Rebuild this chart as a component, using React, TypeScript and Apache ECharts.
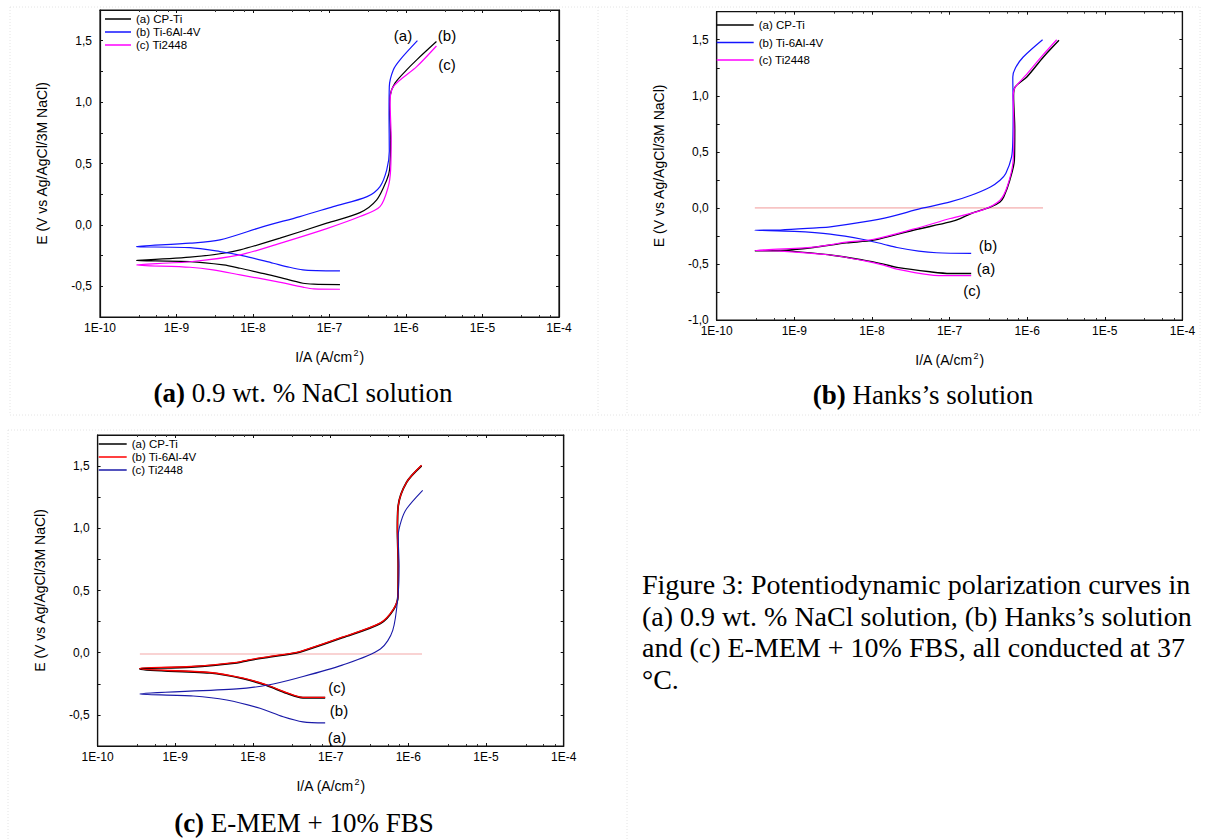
import React, { useEffect, useRef } from "react";
import * as echarts from "echarts";

type Pt = [number, number]; // [current density A/cm2, potential V]

// ---------- (a) 0.9 wt. % NaCl solution ----------
const aCpTiCathodic: Pt[] = [[3.0e-10, -0.29], [1.5e-9, -0.299], [4.1e-9, -0.326], [6.8e-9, -0.353], [1.2e-8, -0.388], [2.04e-8, -0.421], [4.5e-8, -0.475], [6.2e-8, -0.483], [1.37e-7, -0.486]];
const aCpTiAnodic: Pt[] = [[3.0e-10, -0.285], [1.5e-9, -0.263], [4.1e-9, -0.231], [6.8e-9, -0.204], [2.25e-8, -0.108], [9.2e-8, 0.014], [2.5e-7, 0.10], [4.14e-7, 0.204], [5.6e-7, 0.366], [6.1e-7, 0.45], [6.3e-7, 0.7], [6.1e-7, 0.95], [6.17e-7, 1.045], [7.18e-7, 1.154], [1.02e-6, 1.262], [1.38e-6, 1.344], [2.5e-6, 1.493]];
const aTi64Cathodic: Pt[] = [[3.0e-10, -0.177], [1.5e-9, -0.185], [3.7e-9, -0.217], [7.5e-9, -0.252], [1.84e-8, -0.312], [3.0e-8, -0.345], [4.5e-8, -0.366], [6.8e-8, -0.372], [1.37e-7, -0.374]];
const aTi64Anodic: Pt[] = [[3.0e-10, -0.177], [1.5e-9, -0.149], [3.7e-9, -0.122], [1.36e-8, -0.014], [4.1e-8, 0.068], [1.12e-7, 0.149], [3.1e-7, 0.23], [4.57e-7, 0.312], [5.6e-7, 0.448], [6.05e-7, 0.6], [6.0e-7, 0.9], [6.05e-7, 1.126], [6.82e-7, 1.262], [8.36e-7, 1.344], [1.41e-6, 1.50]];
const aTi2448Cathodic: Pt[] = [[3.0e-10, -0.326], [1.5e-9, -0.345], [3.0e-9, -0.366], [6.8e-9, -0.407], [2.04e-8, -0.462], [4.5e-8, -0.507], [6.2e-8, -0.521], [1.37e-7, -0.524]];
const aTi2448Anodic: Pt[] = [[3.0e-10, -0.326], [1.5e-9, -0.30], [6.8e-9, -0.244], [2.25e-8, -0.15], [9.2e-8, -0.03], [2.5e-7, 0.068], [4.57e-7, 0.149], [5.87e-7, 0.312], [6.3e-7, 0.45], [6.4e-7, 0.7], [6.2e-7, 1.0], [6.82e-7, 1.126], [1.38e-6, 1.289], [2.5e-6, 1.457]];

// ---------- (b) Hanks's solution ----------
const bCpTiCathodic: Pt[] = [[3.1e-10, -0.383], [6.6e-10, -0.383], [2.9e-9, -0.42], [7.8e-9, -0.466], [1.41e-8, -0.502], [2.1e-8, -0.531], [5.6e-8, -0.57], [1.02e-7, -0.585], [1.9e-7, -0.585]];
const bCpTiAnodic: Pt[] = [[3.1e-10, -0.383], [6.6e-10, -0.38], [1.76e-9, -0.353], [4.7e-9, -0.312], [1.05e-8, -0.288], [3.4e-8, -0.199], [1.02e-7, -0.125], [1.37e-7, -0.095], [1.9e-7, -0.05], [3.4e-7, 0.009], [4.47e-7, 0.053], [5.0e-7, 0.10], [5.97e-7, 0.247], [6.84e-7, 0.425], [6.92e-7, 0.7], [6.68e-7, 1.0], [6.98e-7, 1.078], [9.9e-7, 1.168], [1.62e-6, 1.346], [2.57e-6, 1.495]];
const bTi64Cathodic: Pt[] = [[3.1e-10, -0.199], [1.0e-9, -0.21], [2.9e-9, -0.234], [7.8e-9, -0.282], [1.41e-8, -0.324], [2.1e-8, -0.353], [4.0e-8, -0.385], [6.8e-8, -0.40], [1.9e-7, -0.406]];
const bTi64Anodic: Pt[] = [[3.1e-10, -0.199], [6.6e-10, -0.197], [1.93e-9, -0.178], [2.9e-9, -0.169], [7.8e-9, -0.125], [1.7e-8, -0.08], [4.3e-8, -0.005], [1.02e-7, 0.053], [1.9e-7, 0.113], [3.36e-7, 0.187], [4.47e-7, 0.247], [5.3e-7, 0.307], [6.3e-7, 0.455], [6.53e-7, 0.6], [6.6e-7, 0.9], [6.53e-7, 1.168], [7.08e-7, 1.25], [8.9e-7, 1.346], [1.58e-6, 1.50]];
const bTi2448Cathodic: Pt[] = [[3.1e-10, -0.38], [6.6e-10, -0.385], [2.9e-9, -0.42], [7.8e-9, -0.47], [1.41e-8, -0.51], [2.1e-8, -0.546], [5.6e-8, -0.597], [1.02e-7, -0.605], [1.9e-7, -0.605]];
const bTi2448Anodic: Pt[] = [[3.1e-10, -0.38], [1.76e-9, -0.35], [4.7e-9, -0.306], [1.05e-8, -0.28], [3.4e-8, -0.19], [1.02e-7, -0.095], [2.73e-7, -0.015], [4.47e-7, 0.068], [5.6e-7, 0.2], [6.6e-7, 0.42], [6.76e-7, 0.7], [6.6e-7, 1.0], [6.92e-7, 1.07], [9.5e-7, 1.18], [1.58e-6, 1.36], [2.4e-6, 1.50]];
const bZeroLine: Pt[] = [[3.1e-10, 0], [1.6e-6, 0]];

// ---------- (c) E-MEM + 10% FBS ----------
const cCpTiCathodic: Pt[] = [[3.5e-10, -0.134], [2.8e-9, -0.163], [7.5e-9, -0.209], [1.5e-8, -0.263], [2.7e-8, -0.325], [4.4e-8, -0.362], [8.5e-8, -0.362]];
const cCpTiAnodic: Pt[] = [[3.5e-10, -0.128], [1.6e-9, -0.115], [6.2e-9, -0.082], [8.8e-9, -0.061], [1.66e-8, -0.034], [3.65e-8, -0.001], [4.8e-8, 0.02], [1.41e-7, 0.121], [4.37e-7, 0.236], [6.4e-7, 0.344], [7.35e-7, 0.452], [7.41e-7, 0.7], [7.24e-7, 1.0], [7.41e-7, 1.18], [9.5e-7, 1.37], [1.48e-6, 1.503]];
const cTi64Cathodic: Pt[] = [[3.5e-10, -0.13], [2.8e-9, -0.159], [7.5e-9, -0.205], [1.5e-8, -0.259], [2.7e-8, -0.321], [4.4e-8, -0.359], [8.5e-8, -0.359]];
const cTi64Anodic: Pt[] = [[3.5e-10, -0.124], [1.6e-9, -0.111], [6.2e-9, -0.078], [8.8e-9, -0.057], [1.66e-8, -0.03], [3.65e-8, 0.003], [4.8e-8, 0.024], [1.41e-7, 0.125], [4.37e-7, 0.24], [6.4e-7, 0.348], [7.35e-7, 0.456], [7.41e-7, 0.7], [7.24e-7, 1.0], [7.41e-7, 1.18], [9.5e-7, 1.37], [1.48e-6, 1.507]];
const cTi2448Cathodic: Pt[] = [[3.5e-10, -0.332], [1.7e-9, -0.348], [4.6e-9, -0.38], [1.23e-8, -0.447], [2.45e-8, -0.515], [4.4e-8, -0.556], [8.5e-8, -0.564]];
const cTi2448Anodic: Pt[] = [[3.5e-10, -0.332], [6.2e-9, -0.291], [1.56e-8, -0.26], [3.65e-8, -0.205], [1.41e-7, -0.10], [4.37e-7, 0.03], [6.3e-7, 0.18], [7.41e-7, 0.483], [7.59e-7, 0.7], [7.41e-7, 0.941], [8.1e-7, 1.06], [9.5e-7, 1.157], [1.53e-6, 1.305]];
const cZeroLine: Pt[] = [[3.5e-10, -0.01], [1.5e-6, -0.01]];

const curveNames = ["(a) CP-Ti", "(b) Ti-6Al-4V", "(c) Ti2448"];
const yAxisTitle = "E (V vs Ag/AgCl/3M NaCl)";
const panelTitles = [
  ["(a)", " 0.9 wt. % NaCl solution"],
  ["(b)", " Hanks\u2019s solution"],
  ["(c)", " E-MEM + 10% FBS"],
];
const curveTags = [["(a)", "(b)", "(c)"], ["(b)", "(a)", "(c)"], ["(c)", "(b)", "(a)"]];
const captionLines = [
  "Figure 3: Potentiodynamic polarization curves in",
  "(a) 0.9 wt. % NaCl solution, (b) Hanks\u2019s solution",
  "and (c) E-MEM + 10% FBS, all conducted at 37",
  "\u00B0C.",
];

const SANS = "Liberation Sans, Arial, sans-serif";
const SERIF = "Liberation Serif, Times New Roman, serif";

const panels = [
  {
    key: "a", left: 100, top: 10, width: 459, height: 307, yMin: -0.75, yMax: 1.75,
    legend: { left: 105, top: 12.5, iconW: 26, gap: 0 },
    curves: [
      { name: curveNames[0], color: "#000000", width: 1.2, cath: aCpTiCathodic, anod: aCpTiAnodic },
      { name: curveNames[1], color: "#1414ff", width: 1.2, cath: aTi64Cathodic, anod: aTi64Anodic },
      { name: curveNames[2], color: "#ff00ff", width: 1.2, cath: aTi2448Cathodic, anod: aTi2448Anodic },
    ],
    zero: null as Pt[] | null,
    title: { x: 303, y: 393 },
    tags: [{ x: 403, y: 35 }, { x: 447, y: 35 }, { x: 447, y: 64 }],
  },
  {
    key: "b", left: 716.7, top: 11.7, width: 465.7, height: 308.3, yMin: -1.0, yMax: 1.75,
    legend: { left: 716.7, top: 18.5, iconW: 37, gap: 4.5 },
    curves: [
      { name: curveNames[0], color: "#000000", width: 1.4, cath: bCpTiCathodic, anod: bCpTiAnodic },
      { name: curveNames[1], color: "#1414ff", width: 1.2, cath: bTi64Cathodic, anod: bTi64Anodic },
      { name: curveNames[2], color: "#ff00ff", width: 1.2, cath: bTi2448Cathodic, anod: bTi2448Anodic },
    ],
    zero: bZeroLine,
    title: { x: 923, y: 395 },
    tags: [{ x: 988, y: 245 }, { x: 986, y: 268 }, { x: 972, y: 290 }],
  },
  {
    key: "c", left: 97.6, top: 435, width: 466.1, height: 311, yMin: -0.75, yMax: 1.75,
    legend: { left: 98.7, top: 437.5, iconW: 28, gap: 0 },
    curves: [
      { name: curveNames[0], color: "#000000", width: 1.8, cath: cCpTiCathodic, anod: cCpTiAnodic },
      { name: curveNames[1], color: "#ff0000", width: 1.3, cath: cTi64Cathodic, anod: cTi64Anodic },
      { name: curveNames[2], color: "#1a1aa8", width: 1.1, cath: cTi2448Cathodic, anod: cTi2448Anodic },
    ],
    zero: cZeroLine,
    title: { x: 304, y: 823 },
    tags: [{ x: 337, y: 687 }, { x: 339, y: 710 }, { x: 337, y: 737 }],
  },
];

const xLabel = (v: number) => "1E" + Math.round(Math.log10(v));
const yLabel = (v: number) =>
  Math.abs(v * 2 - Math.round(v * 2)) < 1e-6 ? v.toFixed(1).replace(".", ",") : "";

function buildOption() {
  const grid: any[] = [];
  const xAxis: any[] = [];
  const yAxis: any[] = [];
  const series: any[] = [];
  const legend: any[] = [];
  const graphic: any[] = [];

  panels.forEach((p, i) => {
    grid.push({ left: p.left, top: p.top, width: p.width, height: p.height, show: true, borderColor: "#111", borderWidth: 1.2 });
    const tickCommon = {
      axisLine: { show: true, onZero: false, lineStyle: { color: "#111", width: 1.2 } },
      axisTick: { show: true, inside: true, length: 3, lineStyle: { color: "#111" } },
      minorTick: { show: true, splitNumber: 4, length: 2, lineStyle: { color: "#333" } },
      splitLine: { show: false },
    };
    xAxis.push({
      type: "log", logBase: 10, gridIndex: i, min: 1e-10, max: 1e-4, position: "bottom",
      ...tickCommon,
      axisLabel: { formatter: xLabel, fontSize: 12, fontFamily: SANS, color: "#000", margin: 5 },
      name: "{n|I/A (A/cm}{s|2}{n|)}",
      nameLocation: "middle", nameGap: 31,
      nameTextStyle: {
        fontSize: 14, fontFamily: SANS, color: "#000",
        rich: {
          n: { fontSize: 14, fontFamily: SANS, color: "#000", lineHeight: 18 },
          s: { fontSize: 9, fontFamily: SANS, color: "#000", verticalAlign: "top", padding: [0, 1, 0, 1] },
        },
      },
    });
    xAxis.push({
      type: "log", logBase: 10, gridIndex: i, min: 1e-10, max: 1e-4, position: "top",
      ...tickCommon, axisLabel: { show: false },
    });
    yAxis.push({
      type: "value", gridIndex: i, min: p.yMin, max: p.yMax, interval: 0.25, position: "left",
      ...tickCommon,
      minorTick: { show: false },
      axisLabel: { formatter: yLabel, fontSize: 12, fontFamily: SANS, color: "#000", margin: 8 },
      name: yAxisTitle, nameLocation: "middle", nameRotate: 90, nameGap: 51,
      nameTextStyle: { fontSize: 14, fontFamily: SANS, color: "#000" },
    });
    yAxis.push({
      type: "value", gridIndex: i, min: p.yMin, max: p.yMax, interval: 0.25, position: "right",
      ...tickCommon, minorTick: { show: false }, axisLabel: { show: false },
    });

    if (p.zero) {
      series.push({
        type: "line", name: p.key + "|ref", xAxisIndex: 2 * i, yAxisIndex: 2 * i,
        data: p.zero, showSymbol: false, symbol: "none", silent: true, z: 1,
        lineStyle: { color: "#f7c4c4", width: 1.6 },
      });
    }
    p.curves.forEach((c, k) => {
      series.push({
        type: "line", name: p.key + "|" + c.name, xAxisIndex: 2 * i, yAxisIndex: 2 * i,
        data: [...c.cath.slice().reverse(), ...c.anod],
        showSymbol: false, symbol: "none", color: c.color, z: 2 + k, smooth: 0.3,
        lineStyle: { color: c.color, width: c.width },
        itemStyle: { color: c.color },
      });
    });

    legend.push({
      orient: "vertical", left: p.legend.left, top: p.legend.top, padding: 0,
      itemWidth: p.legend.iconW, itemHeight: 1.5, itemGap: p.legend.gap, icon: "rect",
      selectedMode: false,
      data: p.curves.map((c) => p.key + "|" + c.name),
      formatter: (n: string) => n.split("|")[1],
      textStyle: { fontSize: 11.5, fontFamily: SANS, color: "#000", lineHeight: 13 },
    });

    graphic.push({
      type: "text", x: p.title.x, y: p.title.y,
      style: {
        text: "{b|" + panelTitles[i][0] + "}{r|" + panelTitles[i][1] + "}",
        align: "center", verticalAlign: "middle", fill: "#000",
        fontSize: 27, fontFamily: SERIF,
        rich: {
          b: { fontSize: 27, fontFamily: SERIF, fontWeight: "bold", fill: "#000" },
          r: { fontSize: 27, fontFamily: SERIF, fill: "#000" },
        },
      },
    });
    p.tags.forEach((t, k) => {
      graphic.push({
        type: "text", x: t.x, y: t.y,
        style: { text: curveTags[i][k], align: "center", verticalAlign: "middle", fontSize: 15, fontFamily: SANS, fill: "#000" },
      });
    });
  });

  graphic.push({
    type: "text", x: 642, y: 569,
    style: {
      text: captionLines.join("\n"), align: "left", verticalAlign: "top",
      fontSize: 28, fontFamily: SERIF, fill: "#000", lineHeight: 31.5,
    },
  });

  const dot = { stroke: "#e4e4e4", lineWidth: 1, lineDash: [1, 2] };
  [
    [10, 7, 1200, 7], [10, 415, 1200, 415], [8, 430, 1200, 430],
    [10, 7, 10, 415], [598, 7, 598, 415], [627, 7, 627, 415], [1200, 7, 1200, 415],
    [8, 430, 8, 839], [627, 430, 627, 839],
  ].forEach(([x1, y1, x2, y2]) => {
    graphic.push({ type: "line", shape: { x1, y1, x2, y2 }, style: dot, silent: true, z: -1 });
  });

  return {
    animation: false,
    backgroundColor: "#ffffff",
    grid, xAxis, yAxis, series, legend, graphic,
  };
}

export default function App() {
  const ref = useRef<HTMLDivElement>(null);
  useEffect(() => {
    document.body.style.margin = "0";
    if (!ref.current) return;
    const chart = echarts.init(ref.current, undefined, { renderer: "svg" });
    chart.setOption(buildOption() as any);
    return () => chart.dispose();
  }, []);
  return <div ref={ref} style={{ width: 1206, height: 839 }} />;
}
